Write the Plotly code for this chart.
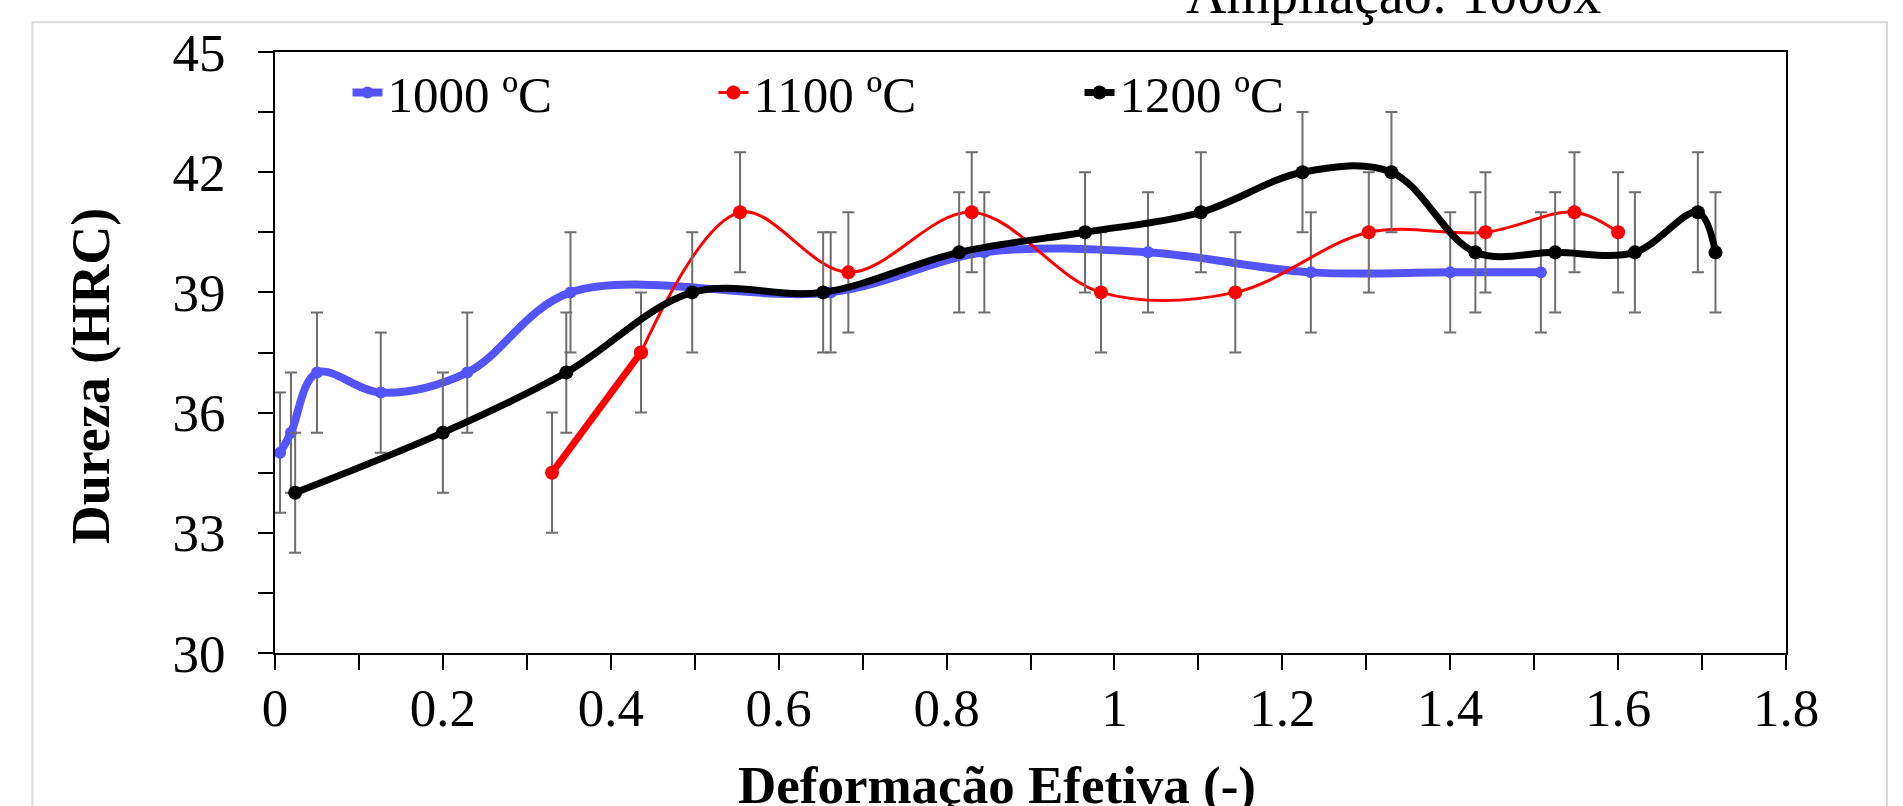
import plotly.graph_objects as go

# 1000 ºC
x_1000 = [0.006, 0.019, 0.05, 0.126, 0.229, 0.352, 0.662, 0.845, 1.04, 1.234, 1.40, 1.508]
y_1000 = [35, 35.5, 37, 36.5, 37, 39, 39, 40, 40, 39.5, 39.5, 39.5]
err_1000 = [1.5] * len(x_1000)

# 1100 ºC
x_1100 = [0.33, 0.436, 0.554, 0.683, 0.83, 0.984, 1.144, 1.303, 1.442, 1.548, 1.6]
y_1100 = [34.5, 37.5, 41, 39.5, 41, 39, 39, 40.5, 40.5, 41, 40.5]
err_1100 = [1.5] * len(x_1100)

# 1200 ºC
x_1200 = [0.024, 0.2, 0.347, 0.497, 0.653, 0.815, 0.965, 1.103, 1.224, 1.33, 1.43, 1.525, 1.62, 1.695, 1.716]
y_1200 = [34, 35.5, 37, 39, 39, 40, 40.5, 41, 42, 42, 40, 40, 40, 41, 40]
err_1200 = [1.5] * len(x_1200)

FONT = "Liberation Serif, Times New Roman, serif"
ERR_COLOR = "#6e6e6e"


def err(arr):
    return dict(type="data", array=arr, visible=True, color=ERR_COLOR, thickness=2, width=6)


fig = go.Figure()

# blue series
fig.add_trace(go.Scatter(
    x=x_1000, y=y_1000, mode="lines+markers", name="1000 ºC",
    line=dict(color="#5454FF", width=8, shape="spline", smoothing=1),
    marker=dict(size=12, color="#5454FF"),
    error_y=err(err_1000),
))

# red series: first segment drawn thick, rest thin
fig.add_trace(go.Scatter(
    x=x_1100[:2], y=y_1100[:2], mode="lines+markers", showlegend=False,
    line=dict(color="#FF0000", width=7),
    marker=dict(size=14, color="#FF0000"),
    error_y=err([err_1100[0], 0]),
))
fig.add_trace(go.Scatter(
    x=x_1100[1:], y=y_1100[1:], mode="lines+markers", name="1100 ºC",
    line=dict(color="#FF0000", width=3, shape="spline", smoothing=1),
    marker=dict(size=14, color="#FF0000"),
    error_y=err(err_1100[1:]),
))

# black series
fig.add_trace(go.Scatter(
    x=x_1200, y=y_1200, mode="lines+markers", name="1200 ºC",
    line=dict(color="#000000", width=7, shape="spline", smoothing=1),
    marker=dict(size=14, color="#000000"),
    error_y=err(err_1200),
))

axis_common = dict(
    showgrid=False, zeroline=False,
    showline=True, linecolor="black", linewidth=2, mirror=True,
    ticks="outside", ticklen=15, tickwidth=2, tickcolor="black",
    tickfont=dict(family=FONT, size=53, color="black"),
)

fig.update_xaxes(range=[0, 1.8], tick0=0, dtick=0.2, ticklabelstandoff=-8,
                 minor=dict(dtick=0.1, ticks="outside", ticklen=15, tickwidth=2, tickcolor="black"),
                 **axis_common)
fig.update_yaxes(range=[30, 45], tick0=30, dtick=3, ticklabelstandoff=22,
                 minor=dict(dtick=1.5, ticks="outside", ticklen=15, tickwidth=2, tickcolor="black"),
                 **axis_common)

# axis titles
fig.add_annotation(text="<b>Deformação Efetiva (-)</b>", xref="paper", yref="paper",
                   x=0.478, y=-0.221, xanchor="center", yanchor="middle", showarrow=False,
                   font=dict(family=FONT, size=53, color="black"))
fig.add_annotation(text="<b>Dureza (HRC)</b>", xref="paper", yref="paper",
                   x=-0.1216, y=0.461, xanchor="center", yanchor="middle", textangle=-90,
                   showarrow=False, font=dict(family=FONT, size=54, color="black"))

# cropped caption above the chart
fig.add_annotation(text="Ampliação: 1000x", xref="paper", yref="paper",
                   x=0.740, y=1.097, xanchor="center", yanchor="middle", showarrow=False,
                   font=dict(family=FONT, size=56, color="black"))

# chart area border
fig.add_shape(type="rect", xref="paper", yref="paper",
              x0=-0.1606, x1=1.0668, y0=-0.3, y1=1.0494,
              line=dict(color="#d9d9d9", width=2), fillcolor="rgba(0,0,0,0)", layer="below")

fig.update_layout(
    width=1903, height=806,
    margin=dict(l=275, r=117, t=52, b=153),
    paper_bgcolor="white", plot_bgcolor="white",
    font=dict(family=FONT, color="black"),
    legend=dict(orientation="h", x=0.048, y=0.932, xanchor="left", yanchor="middle",
                font=dict(family=FONT, size=51, color="black"),
                entrywidth=321, entrywidthmode="pixels",
                bgcolor="rgba(0,0,0,0)", borderwidth=0),
    showlegend=True,
)

fig.write_html("out.html", config={"displayModeBar": False},
               post_script="document.body.style.margin='0px';document.body.style.overflow='hidden';")
